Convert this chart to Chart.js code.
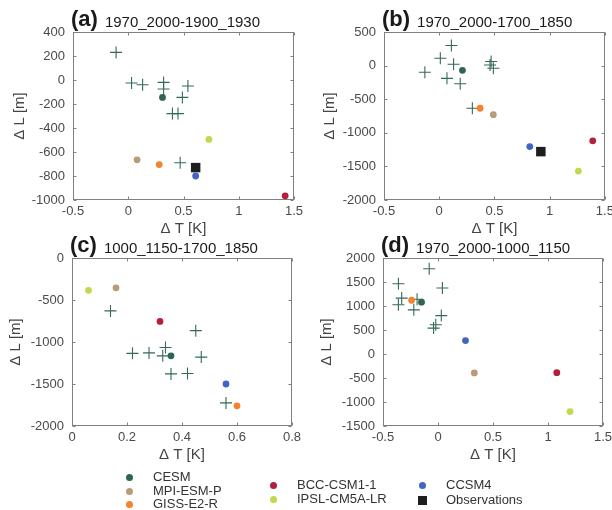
<!DOCTYPE html>
<html>
<head>
<meta charset="utf-8">
<script src="https://cdn.jsdelivr.net/npm/chart.js@4.4.1/dist/chart.umd.min.js"></script>
<style>
  body { margin: 0; background: #fff; }
  #wrap { position: relative; width: 612px; height: 510px; font-family: 'Liberation Sans', Arial, sans-serif; }
  #wrap canvas { position: absolute; left: 0; top: 0; }
  .lg { position: absolute; font-size: 13px; color: #333; line-height: 14px; white-space: nowrap; }
  .mk { position: absolute; width: 7px; height: 7px; border-radius: 50%; }
</style>
</head>
<body>
<div id="wrap">
  <canvas id="ca" width="612" height="510"></canvas>
  <canvas id="cb" width="612" height="510"></canvas>
  <canvas id="cc" width="612" height="510"></canvas>
  <canvas id="cd" width="612" height="510"></canvas>
  <div id="legend"></div>
</div>
<script>
const FONT = "'Liberation Sans', Arial, sans-serif";

const models = ['CESM', 'MPI-ESM-P', 'GISS-E2-R', 'BCC-CSM1-1', 'IPSL-CM5A-LR', 'CCSM4', 'Observations'];
const modelColors = ['#2f6650', '#b89b77', '#f5822d', '#b41f3b', '#c3d84c', '#4166c2', '#1e1e1e'];
const crossColor = '#356a57';

// (a) 1970_2000-1900_1930
const aCrossX = [-0.11, 0.03, 0.13, 0.32, 0.32, 0.54, 0.49, 0.40, 0.45, 0.47];
const aCrossY = [230, -25, -40, -20, -75, -50, -145, -280, -280, -690];
const aModelX = [0.31, 0.08, 0.28, 1.42, 0.73, 0.61, 0.61];
const aModelY = [-145, -665, -705, -965, -495, -800, -730];
const aXTicks = [-0.5, 0, 0.5, 1, 1.5];
const aYTicks = [-1000, -800, -600, -400, -200, 0, 200, 400];

// (b) 1970_2000-1700_1850
const bCrossX = [0.11, 0.01, 0.13, -0.13, 0.07, 0.19, 0.47, 0.46, 0.49, 0.30];
const bCrossY = [300, 110, 20, -100, -190, -270, 60, 10, -40, -635];
const bModelX = [0.21, 0.49, 0.37, 1.39, 1.26, 0.82, 0.92];
const bModelY = [-70, -730, -635, -1120, -1570, -1205, -1280];
const bXTicks = [-0.5, 0, 0.5, 1, 1.5];
const bYTicks = [-2000, -1500, -1000, -500, 0, 500];

// (c) 1000_1150-1700_1850
const cCrossX = [0.14, 0.45, 0.34, 0.22, 0.28, 0.33, 0.47, 0.36, 0.42, 0.56];
const cCrossY = [-630, -865, -1065, -1135, -1130, -1165, -1180, -1380, -1375, -1725];
const cModelX = [0.36, 0.16, 0.60, 0.32, 0.06, 0.56, null];
const cModelY = [-1165, -355, -1760, -755, -385, -1500, null];
const cXTicks = [0, 0.2, 0.4, 0.6, 0.8];
const cYTicks = [-2000, -1500, -1000, -500, 0];

// (d) 1970_2000-1000_1150
const dCrossX = [-0.08, -0.36, 0.04, -0.33, -0.36, -0.22, -0.19, 0.03, -0.02, -0.04];
const dCrossY = [1775, 1465, 1375, 1165, 1025, 920, 1140, 800, 610, 540];
const dModelX = [-0.15, 0.33, -0.24, 1.08, 1.20, 0.25, null];
const dModelY = [1080, -395, 1120, -390, -1200, 280, null];
const dXTicks = [-0.5, 0, 0.5, 1, 1.5];
const dYTicks = [-1500, -1000, -500, 0, 500, 1000, 1500, 2000];

const panels = [
  { id: 'ca', tag: '(a)', title: '1970_2000-1900_1930', cx: aCrossX, cy: aCrossY, mx: aModelX, my: aModelY, xt: aXTicks, yt: aYTicks, box: [73, 32, 294, 200], ylab: -53 },
  { id: 'cb', tag: '(b)', title: '1970_2000-1700_1850', cx: bCrossX, cy: bCrossY, mx: bModelX, my: bModelY, xt: bXTicks, yt: bYTicks, box: [384, 32, 605, 200], ylab: -54 },
  { id: 'cc', tag: '(c)', title: '1000_1150-1700_1850', cx: cCrossX, cy: cCrossY, mx: cModelX, my: cModelY, xt: cXTicks, yt: cYTicks, box: [72, 258, 292, 426], ylab: -56 },
  { id: 'cd', tag: '(d)', title: '1970_2000-1000_1150', cx: dCrossX, cy: dCrossY, mx: dModelX, my: dModelY, xt: dXTicks, yt: dYTicks, box: [383, 258, 603, 426], ylab: -56 },
];

const fmt = v => String(Math.round(v * 10) / 10);

// frame, inward ticks and texts drawn around the plot area
const framePlugin = {
  id: 'frame',
  beforeDatasetsDraw(chart, args, o) {
    const { ctx, chartArea: a, scales } = chart;
    const L = Math.round(a.left) + 0.5, R = Math.round(a.right) - 0.5;
    const T = Math.round(a.top) + 0.5, B = Math.round(a.bottom) - 0.5;
    ctx.save();
    ctx.strokeStyle = '#808080';
    ctx.lineWidth = 1;
    ctx.strokeRect(L, T, R - L, B - T);
    ctx.beginPath();
    scales.x.ticks.forEach(t => {
      const px = Math.round(scales.x.getPixelForValue(t.value)) + 0.5;
      ctx.moveTo(px, B); ctx.lineTo(px, B - 3);
      ctx.moveTo(px, T); ctx.lineTo(px, T + 3);
    });
    scales.y.ticks.forEach(t => {
      const py = Math.round(scales.y.getPixelForValue(t.value)) + 0.5;
      ctx.moveTo(L, py); ctx.lineTo(L + 3, py);
      ctx.moveTo(R, py); ctx.lineTo(R - 3, py);
    });
    ctx.stroke();
    ctx.restore();
  },
  afterDraw(chart, args, o) {
    const { ctx, chartArea: a } = chart;
    ctx.save();
    ctx.fillStyle = '#1a1a1a';
    ctx.textBaseline = 'alphabetic';
    ctx.textAlign = 'left';
    ctx.font = 'bold 22px ' + FONT;
    ctx.fillText(o.tag, a.left - 2, a.top - 6);
    const w = ctx.measureText(o.tag).width;
    ctx.font = '15px ' + FONT;
    ctx.fillText(o.title, a.left - 2 + w + 7, a.top - 5);

    ctx.fillStyle = '#444';
    ctx.textAlign = 'center';
    ctx.textBaseline = 'middle';
    ctx.fillText('\u0394 T [K]', (a.left + a.right) / 2, a.bottom + 29);
    ctx.translate(a.left + o.ylab, (a.top + a.bottom) / 2);
    ctx.rotate(-Math.PI / 2);
    ctx.fillText('\u0394 L [m]', 0, 0);
    ctx.restore();
  }
};

function makeChart(p) {
  const [L, T, R, B] = p.box;
  const datasets = models.map((m, i) => ({
    label: m,
    data: p.mx[i] == null ? [] : [{ x: p.mx[i], y: p.my[i] }],
    pointStyle: i === 6 ? 'rect' : 'circle',
    pointRadius: i === 6 ? 6.7 : 3.4,
    backgroundColor: modelColors[i],
    borderColor: modelColors[i],
    borderWidth: 0,
  }));
  datasets.push({
    label: 'members',
    data: p.cx.map((x, i) => ({ x: x, y: p.cy[i] })),
    pointStyle: 'cross',
    pointRadius: 6,
    borderColor: crossColor,
    backgroundColor: crossColor,
    borderWidth: 1.1,
  });

  const tickFont = { family: FONT, size: 13 };
  new Chart(document.getElementById(p.id), {
    type: 'scatter',
    data: { datasets },
    plugins: [framePlugin],
    options: {
      responsive: false,
      animation: false,
      devicePixelRatio: 1,
      layout: { padding: { left: L - 60, top: T, right: 612 - R, bottom: 510 - B - 30 } },
      plugins: {
        legend: { display: false },
        tooltip: { enabled: false },
        frame: { tag: p.tag, title: p.title, ylab: p.ylab },
      },
      scales: {
        x: {
          type: 'linear',
          min: p.xt[0], max: p.xt[p.xt.length - 1],
          afterBuildTicks: s => { s.ticks = p.xt.map(v => ({ value: v })); },
          afterFit: s => { s.height = 30; s.paddingLeft = 0; s.paddingRight = 0; },
          ticks: { callback: fmt, font: tickFont, color: '#4a4a4a', padding: 4, maxRotation: 0, autoSkip: false },
          grid: { display: false, drawTicks: false },
          border: { display: false },
        },
        y: {
          type: 'linear',
          min: p.yt[0], max: p.yt[p.yt.length - 1],
          afterBuildTicks: s => { s.ticks = p.yt.map(v => ({ value: v })); },
          afterFit: s => { s.width = 60; s.paddingTop = 0; s.paddingBottom = 0; },
          ticks: { callback: fmt, font: tickFont, color: '#4a4a4a', padding: 8, autoSkip: false },
          grid: { display: false, drawTicks: false },
          border: { display: false },
        }
      }
    }
  });
}

panels.forEach(makeChart);

// legend (three columns, as in the figure)
const legendPos = [
  [129, 477], [129, 491], [129, 504],
  [273, 485], [273, 499],
  [422, 485], [422, 500],
];
const legend = document.getElementById('legend');
models.forEach((m, i) => {
  const [x, y] = legendPos[i];
  const mk = document.createElement('div');
  mk.className = 'mk';
  mk.style.background = modelColors[i];
  if (i === 6) {
    mk.style.borderRadius = '0';
    mk.style.width = '9px'; mk.style.height = '9px';
    mk.style.left = (x - 4.5) + 'px'; mk.style.top = (y - 4.5) + 'px';
  } else {
    mk.style.left = (x - 3.5) + 'px'; mk.style.top = (y - 3.5) + 'px';
  }
  legend.appendChild(mk);
  const t = document.createElement('div');
  t.className = 'lg';
  t.textContent = m;
  t.style.left = (x + 24) + 'px';
  t.style.top = (y - 7) + 'px';
  legend.appendChild(t);
});
</script>
</body>
</html>
